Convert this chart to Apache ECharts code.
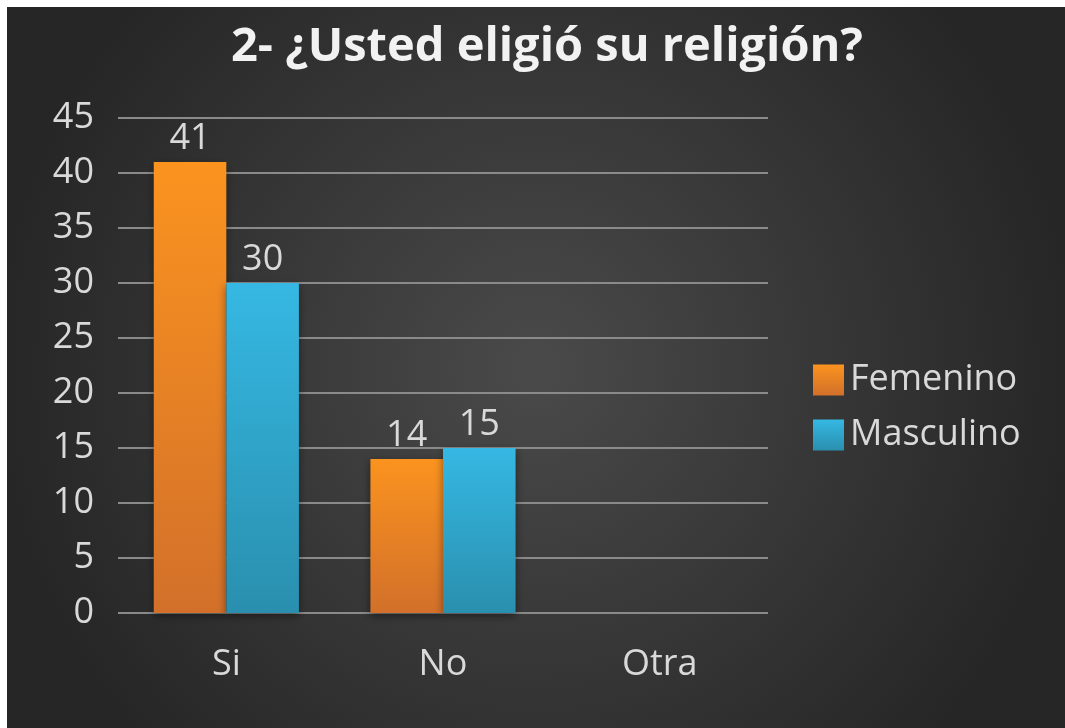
<!DOCTYPE html>
<html>
<head>
<meta charset="utf-8">
<script src="https://cdn.jsdelivr.net/npm/echarts@6/dist/echarts.min.js"></script>
<style>
  html, body { margin: 0; padding: 0; background: #ffffff; width: 1065px; height: 728px; overflow: hidden; }
  #chart { position: absolute; left: 7px; top: 7px; width: 1058px; height: 721px; }
</style>
</head>
<body>
<div id="chart"></div>
<script>
const titleText = "2- ¿Usted eligió su religión?";
const categories = ["Si", "No", "Otra"];
const femenino = [41, 14, null];
const masculino = [30, 15, null];
const yTicks = { min: 0, max: 45, interval: 5 };

const chart = echarts.init(document.getElementById('chart'));
const font = "'Open Sans', 'Noto Sans', sans-serif";
const labelColor = '#d9d9d9';
const fs = 36;

function grad(top, bottom) {
  return new echarts.graphic.LinearGradient(0, 0, 0, 1, [
    { offset: 0, color: top }, { offset: 1, color: bottom }
  ]);
}

chart.setOption({
  backgroundColor: new echarts.graphic.RadialGradient(0.5, 0.5, 0.75, [
    { offset: 0, color: '#4a4a4a' }, { offset: 1, color: '#262626' }
  ]),
  animation: false,
  title: {
    text: titleText,
    left: 219,
    top: 12,
    textStyle: { color: '#f2f2f2', fontSize: 47, fontWeight: 'bold', fontFamily: font }
  },
  legend: {
    orient: 'vertical',
    left: 801,
    top: 350,
    itemWidth: 31,
    itemHeight: 31,
    itemGap: 19,
    icon: 'rect',
    textStyle: { color: labelColor, fontSize: fs, fontFamily: font, padding: [0, 0, 0, 1] },
    data: ['Femenino', 'Masculino']
  },
  grid: { left: 111, right: 297, top: 111, bottom: 115, containLabel: false },
  xAxis: {
    type: 'category',
    data: categories,
    axisLine: { show: false },
    axisTick: { show: false },
    axisLabel: { color: labelColor, fontSize: fs, fontFamily: font, margin: 34 }
  },
  yAxis: {
    type: 'value',
    min: yTicks.min, max: yTicks.max, interval: yTicks.interval,
    axisLine: { show: false },
    axisTick: { show: false },
    axisLabel: { color: labelColor, fontSize: fs, fontFamily: font, margin: 24 },
    splitLine: { lineStyle: { color: '#8a8a8a', width: 2 } }
  },
  series: [
    {
      name: 'Femenino', type: 'bar', data: femenino,
      barGap: '0%', barCategoryGap: '33%',
      itemStyle: { color: grad('#fb931f', '#d2702a'), shadowColor: 'rgba(0,0,0,0.45)', shadowBlur: 8, shadowOffsetY: 3 },
      label: { show: true, position: 'top', distance: 5, color: labelColor, fontSize: fs, fontFamily: font }
    },
    {
      name: 'Masculino', type: 'bar', data: masculino,
      itemStyle: { color: grad('#35b8e3', '#2a8fae'), shadowColor: 'rgba(0,0,0,0.45)', shadowBlur: 8, shadowOffsetY: 3 },
      label: { show: true, position: 'top', distance: 5, color: labelColor, fontSize: fs, fontFamily: font }
    }
  ]
});
</script>
</body>
</html>
